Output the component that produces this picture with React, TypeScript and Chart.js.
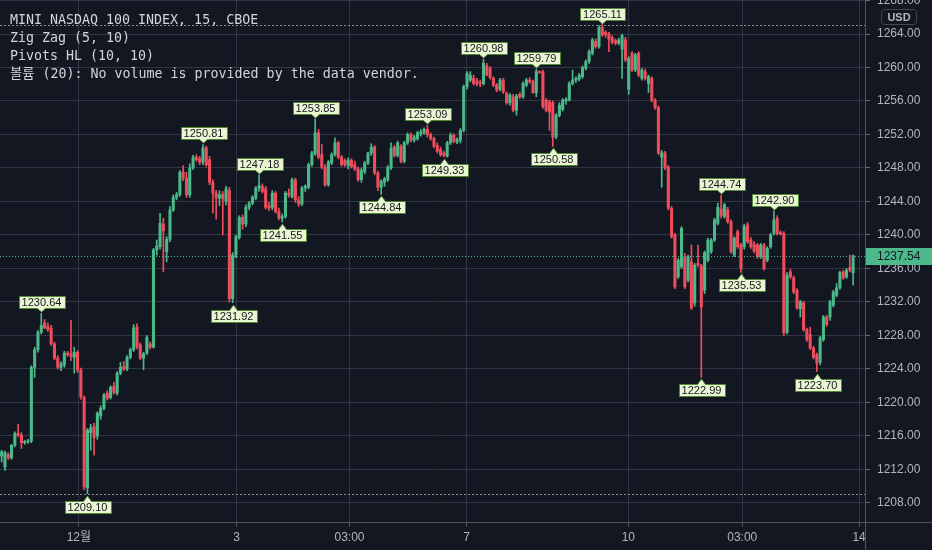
import React, { useEffect, useRef } from 'react';
import { Chart, registerables } from 'chart.js';

Chart.register(...registerables);

// ---------------- data ----------------
const opens = [
  1213.6, 1212.3, 1213.8, 1213.4, 1214.9, 1216.3, 1216.1, 1215.2, 1215.3, 1215.4,
  1224.2, 1226.3, 1228.4, 1229.5, 1229.1, 1228.9, 1227.0, 1225.3, 1224.2, 1224.5,
  1225.9, 1225.8, 1225.4, 1226.0, 1223.9, 1220.6, 1209.8, 1216.4, 1217.1, 1216.0,
  1218.4, 1219.3, 1221.1, 1220.6, 1221.9, 1221.1, 1223.5, 1224.3, 1224.0, 1225.4,
  1226.3, 1229.0, 1226.9, 1225.3, 1225.9, 1227.0, 1226.6, 1238.2, 1238.6, 1241.3,
  1238.0, 1239.5, 1243.0, 1244.5, 1244.8, 1247.5, 1246.8, 1244.8, 1248.0, 1249.3,
  1249.1, 1248.7, 1250.4, 1249.0, 1246.3, 1245.0, 1244.4, 1244.9, 1244.0, 1245.3,
  1232.4, 1237.6, 1239.7, 1242.1, 1241.3, 1243.3, 1243.8, 1244.4, 1245.6, 1245.8,
  1245.5, 1243.5, 1243.3, 1245.0, 1242.8, 1242.0, 1242.2, 1245.0, 1244.6, 1246.6,
  1244.2, 1243.7, 1245.6, 1245.7, 1248.4, 1249.7, 1252.2, 1249.6, 1248.1, 1246.0,
  1248.6, 1249.6, 1251.0, 1249.3, 1248.9, 1248.3, 1248.9, 1248.4, 1247.9, 1246.6,
  1247.6, 1248.6, 1249.8, 1250.5, 1247.4, 1245.7, 1246.3, 1246.6, 1248.0, 1250.5,
  1249.5, 1250.6, 1248.8, 1251.0, 1252.0, 1251.3, 1251.5, 1252.1, 1252.2, 1252.6,
  1252.0, 1251.5, 1250.7, 1250.2, 1249.8, 1249.4, 1251.0, 1251.9, 1251.1, 1251.3,
  1252.5, 1257.7, 1258.5, 1258.7, 1258.4, 1258.2, 1258.1, 1260.2, 1259.9, 1258.7,
  1257.9, 1257.4, 1258.5, 1256.9, 1255.8, 1256.5, 1254.9, 1256.8, 1256.5, 1257.9,
  1258.5, 1258.3, 1257.0, 1259.5, 1259.5, 1256.1, 1255.9, 1255.8, 1251.7, 1254.3,
  1255.0, 1256.0, 1256.1, 1258.1, 1258.5, 1258.6, 1258.9, 1259.9, 1260.7, 1261.7,
  1263.1, 1262.5, 1264.8, 1264.2, 1264.0, 1263.6, 1263.2, 1262.9, 1262.2, 1263.3,
  1257.4, 1261.7, 1259.7, 1261.7, 1258.7, 1259.5, 1258.1, 1258.7, 1256.1, 1255.2,
  1249.3, 1249.8, 1248.1, 1243.2, 1240.0, 1235.0, 1236.2, 1237.4, 1234.6, 1236.8,
  1231.9, 1236.6, 1236.3, 1233.4, 1237.0, 1238.0, 1239.4, 1241.4, 1243.1, 1242.2,
  1243.0, 1241.6, 1237.6, 1240.4, 1238.8, 1238.6, 1241.2, 1239.4, 1238.9, 1238.8,
  1237.4, 1238.8, 1237.0, 1238.6, 1240.2, 1242.0, 1240.3, 1240.2, 1228.4, 1235.6,
  1234.9, 1233.4, 1231.2, 1231.9, 1228.7, 1228.1, 1226.5, 1225.7, 1224.8, 1227.5,
  1230.2, 1230.2, 1231.6, 1232.8, 1233.7, 1235.6, 1235.0, 1236.1, 1235.5,
];

const highs = [
  1214.3, 1214.2, 1214.0, 1215.0, 1216.5, 1217.4, 1216.4, 1215.5, 1215.6, 1224.4,
  1226.6, 1228.6, 1230.64, 1229.9, 1229.5, 1229.2, 1227.2, 1225.6, 1224.9, 1226.1,
  1226.1, 1229.8, 1226.6, 1226.2, 1224.1, 1220.8, 1216.9, 1217.4, 1217.5, 1218.9,
  1219.6, 1221.1, 1221.4, 1222.0, 1222.4, 1223.7, 1224.8, 1224.9, 1225.6, 1226.5,
  1229.3, 1229.4, 1227.1, 1226.0, 1228.0, 1227.2, 1238.4, 1239.4, 1242.6, 1242.0,
  1239.8, 1243.4, 1244.8, 1245.1, 1247.7, 1248.3, 1247.5, 1248.5, 1249.5, 1249.6,
  1249.4, 1250.81, 1250.6, 1249.4, 1246.6, 1245.3, 1245.3, 1245.2, 1245.8, 1245.7,
  1237.9, 1240.0, 1242.3, 1242.4, 1243.6, 1244.0, 1244.7, 1245.8, 1247.18, 1246.1,
  1245.8, 1243.9, 1245.3, 1245.2, 1243.2, 1242.5, 1245.2, 1245.5, 1246.8, 1246.8,
  1244.6, 1245.8, 1246.0, 1248.6, 1250.0, 1253.85, 1252.6, 1250.8, 1248.4, 1248.9,
  1249.8, 1251.6, 1251.2, 1249.5, 1249.1, 1249.2, 1249.1, 1248.8, 1248.1, 1248.0,
  1248.8, 1249.9, 1250.9, 1250.7, 1247.6, 1246.6, 1246.9, 1248.3, 1251.0, 1250.7,
  1251.2, 1250.8, 1251.2, 1252.2, 1252.2, 1251.9, 1252.4, 1252.6, 1252.8, 1253.09,
  1252.2, 1251.7, 1251.0, 1250.5, 1250.0, 1251.2, 1252.2, 1252.1, 1251.6, 1252.7,
  1257.9, 1259.5, 1259.5, 1259.1, 1258.7, 1258.5, 1260.98, 1260.5, 1260.1, 1258.9,
  1258.1, 1258.7, 1258.7, 1257.1, 1256.9, 1256.8, 1256.8, 1257.0, 1258.3, 1258.7,
  1258.8, 1258.5, 1259.79, 1259.6, 1259.7, 1256.3, 1256.1, 1256.0, 1254.5, 1255.8,
  1256.3, 1256.4, 1258.3, 1259.7, 1258.9, 1259.3, 1260.2, 1260.9, 1262.1, 1263.5,
  1263.4, 1265.0, 1265.11, 1264.4, 1264.2, 1263.8, 1263.4, 1263.5, 1264.0, 1263.6,
  1261.3, 1261.9, 1261.7, 1261.9, 1259.9, 1259.8, 1259.1, 1258.9, 1256.3, 1255.4,
  1250.1, 1250.0, 1248.3, 1243.4, 1240.2, 1237.2, 1241.0, 1237.8, 1237.6, 1238.8,
  1236.6, 1238.8, 1236.5, 1238.1, 1239.6, 1239.6, 1242.0, 1243.8, 1244.74, 1243.8,
  1243.3, 1241.8, 1239.8, 1240.6, 1239.0, 1241.3, 1241.5, 1239.7, 1239.2, 1239.0,
  1239.0, 1239.0, 1238.6, 1240.2, 1242.90, 1242.3, 1240.5, 1240.4, 1235.5, 1235.9,
  1235.1, 1233.6, 1232.2, 1232.1, 1228.9, 1229.0, 1226.7, 1225.9, 1227.9, 1230.4,
  1230.4, 1232.2, 1233.4, 1234.2, 1235.7, 1235.8, 1236.0, 1237.6, 1237.6,
];

const lows = [
  1212.9, 1211.9, 1213.2, 1213.2, 1214.7, 1215.9, 1214.5, 1215.0, 1215.1, 1215.2,
  1223.0, 1226.0, 1228.2, 1228.8, 1228.5, 1226.8, 1225.1, 1224.0, 1223.8, 1224.2,
  1225.5, 1225.0, 1223.5, 1223.6, 1220.4, 1209.6, 1209.10, 1214.3, 1213.7, 1215.6,
  1218.0, 1219.1, 1220.3, 1220.4, 1221.0, 1220.9, 1223.3, 1223.8, 1223.8, 1225.2,
  1226.1, 1226.4, 1225.1, 1223.9, 1225.7, 1226.4, 1226.5, 1237.6, 1238.3, 1235.6,
  1236.8, 1239.2, 1242.8, 1244.2, 1244.6, 1246.5, 1244.5, 1244.5, 1247.8, 1248.8,
  1248.4, 1248.4, 1248.2, 1246.0, 1242.6, 1241.9, 1243.5, 1240.0, 1243.6, 1232.0,
  1231.92, 1237.3, 1239.5, 1240.7, 1241.0, 1243.0, 1243.6, 1244.2, 1245.2, 1245.0,
  1243.1, 1242.9, 1243.0, 1242.6, 1241.8, 1241.55, 1242.0, 1244.5, 1244.4, 1243.9,
  1243.4, 1243.5, 1245.2, 1245.5, 1248.2, 1249.5, 1249.1, 1247.9, 1245.8, 1245.8,
  1248.4, 1249.4, 1249.1, 1248.2, 1248.2, 1247.9, 1248.0, 1247.7, 1246.4, 1246.3,
  1247.3, 1248.4, 1249.5, 1247.2, 1245.3, 1244.84, 1245.8, 1246.4, 1247.8, 1249.3,
  1249.3, 1248.6, 1248.6, 1250.8, 1251.1, 1251.1, 1251.3, 1251.8, 1252.0, 1251.7,
  1251.3, 1250.4, 1249.8, 1249.4, 1249.33, 1249.3, 1250.8, 1251.0, 1250.9, 1251.0,
  1252.3, 1257.4, 1258.3, 1257.9, 1257.8, 1257.7, 1257.9, 1259.0, 1258.6, 1257.7,
  1257.1, 1257.2, 1256.9, 1255.6, 1255.5, 1254.7, 1254.3, 1256.3, 1256.3, 1257.7,
  1258.1, 1256.9, 1256.5, 1259.3, 1255.1, 1254.7, 1252.5, 1250.58, 1251.5, 1254.1,
  1254.8, 1255.6, 1256.0, 1257.9, 1258.2, 1258.4, 1258.7, 1259.7, 1260.5, 1261.5,
  1262.3, 1262.3, 1263.7, 1263.6, 1261.9, 1262.8, 1262.7, 1262.7, 1258.7, 1260.7,
  1256.8, 1259.5, 1259.5, 1258.9, 1258.5, 1258.5, 1257.0, 1255.9, 1255.0, 1249.6,
  1245.7, 1247.8, 1243.0, 1239.6, 1233.6, 1234.8, 1236.0, 1233.6, 1234.4, 1231.1,
  1231.5, 1236.2, 1222.99, 1233.0, 1236.8, 1237.8, 1239.2, 1241.2, 1242.0, 1242.0,
  1241.4, 1237.8, 1237.4, 1238.4, 1235.53, 1238.3, 1239.0, 1238.4, 1237.9, 1237.2,
  1237.2, 1235.8, 1236.8, 1238.4, 1240.0, 1240.0, 1240.0, 1228.0, 1228.2, 1234.8,
  1233.0, 1231.1, 1230.2, 1228.5, 1227.3, 1226.3, 1225.2, 1223.70, 1224.5, 1227.3,
  1229.1, 1229.8, 1231.4, 1232.6, 1233.5, 1234.7, 1234.8, 1235.6, 1234.0,
];

const closes = [
  1214.1, 1214.0, 1213.4, 1214.9, 1216.3, 1216.1, 1215.2, 1215.3, 1215.4, 1224.2,
  1226.3, 1228.4, 1229.2, 1228.9, 1228.7, 1227.0, 1225.3, 1224.2, 1224.6, 1225.9,
  1225.7, 1225.5, 1226.0, 1223.9, 1220.7, 1209.9, 1216.7, 1217.0, 1215.8, 1218.7,
  1219.3, 1220.9, 1220.5, 1221.8, 1221.2, 1223.5, 1224.2, 1224.0, 1225.4, 1226.3,
  1228.9, 1226.6, 1225.3, 1225.8, 1227.8, 1226.6, 1238.2, 1238.7, 1241.4, 1240.5,
  1239.5, 1243.0, 1244.5, 1244.8, 1247.5, 1246.8, 1244.8, 1248.0, 1249.3, 1249.0,
  1248.7, 1250.4, 1248.4, 1246.3, 1245.0, 1244.4, 1244.8, 1244.3, 1245.5, 1232.4,
  1237.6, 1239.8, 1242.1, 1241.3, 1243.3, 1243.8, 1244.5, 1245.6, 1245.9, 1245.2,
  1243.3, 1243.2, 1245.0, 1242.8, 1242.0, 1242.2, 1245.0, 1244.8, 1246.6, 1244.2,
  1243.7, 1245.6, 1245.8, 1248.4, 1249.8, 1252.2, 1249.3, 1248.1, 1246.0, 1248.7,
  1249.6, 1251.0, 1249.3, 1248.4, 1248.4, 1248.9, 1248.2, 1247.9, 1246.6, 1247.7,
  1248.6, 1249.8, 1250.5, 1247.4, 1245.7, 1246.4, 1246.7, 1248.1, 1250.4, 1249.5,
  1251.0, 1248.8, 1251.0, 1252.0, 1251.3, 1251.7, 1252.2, 1252.3, 1252.6, 1252.0,
  1251.5, 1250.6, 1250.0, 1249.6, 1249.5, 1251.0, 1251.9, 1251.2, 1251.4, 1252.5,
  1257.7, 1259.3, 1259.1, 1258.1, 1258.0, 1258.1, 1260.5, 1259.1, 1258.8, 1257.9,
  1257.3, 1258.5, 1257.1, 1255.8, 1256.7, 1254.9, 1256.6, 1256.5, 1258.1, 1258.5,
  1258.3, 1257.0, 1259.5, 1259.4, 1255.3, 1254.9, 1254.7, 1251.7, 1254.3, 1255.5,
  1256.1, 1256.2, 1258.1, 1258.5, 1258.7, 1259.1, 1260.0, 1260.7, 1261.9, 1263.3,
  1262.5, 1264.8, 1263.9, 1263.9, 1263.4, 1263.0, 1262.9, 1263.3, 1263.8, 1260.9,
  1261.1, 1259.7, 1261.5, 1259.1, 1259.7, 1258.7, 1258.9, 1256.1, 1255.2, 1249.8,
  1249.8, 1248.0, 1243.2, 1239.8, 1233.8, 1237.0, 1240.8, 1233.8, 1237.4, 1231.3,
  1236.4, 1236.4, 1231.4, 1237.9, 1239.4, 1239.4, 1241.8, 1243.3, 1242.3, 1243.6,
  1241.6, 1238.0, 1239.6, 1238.6, 1236.0, 1241.0, 1239.2, 1238.6, 1238.1, 1237.4,
  1238.8, 1236.0, 1238.4, 1240.0, 1241.8, 1240.2, 1240.1, 1228.3, 1235.2, 1235.0,
  1233.2, 1231.3, 1232.0, 1228.7, 1227.5, 1226.5, 1225.4, 1224.7, 1227.7, 1230.2,
  1229.3, 1232.0, 1233.2, 1233.7, 1235.5, 1234.9, 1235.8, 1235.8, 1237.54,
];

// pivot labels (candle index, price, H = high / L = low)
const pivotIdx = [12, 26, 61, 70, 78, 85, 95, 115, 129, 134, 146, 162, 167, 182, 212, 218, 224, 234, 247];
const pivotPrice = [1230.64, 1209.10, 1250.81, 1231.92, 1247.18, 1241.55, 1253.85, 1244.84, 1253.09, 1249.33, 1260.98, 1259.79, 1250.58, 1265.11, 1222.99, 1244.74, 1235.53, 1242.90, 1223.70];
const pivotType = ['H', 'L', 'H', 'L', 'H', 'L', 'H', 'L', 'H', 'L', 'H', 'H', 'L', 'H', 'L', 'H', 'L', 'H', 'L'];

// time axis labels (positions in candle-index units)
const xTickPos = [23.4, 71.2, 105.4, 140.9, 189.9, 224.4, 259.8];
const xTickLabels = ['12월', '3', '03:00', '7', '10', '03:00', '14'];

// price axis ticks
const yTickVals = [1208, 1212, 1216, 1220, 1224, 1228, 1232, 1236, 1240, 1244, 1248, 1252, 1256, 1260, 1264, 1268];

const legendLines = [
  'MINI NASDAQ 100 INDEX, 15, CBOE',
  'Zig Zag (5, 10)',
  'Pivots HL (10, 10)',
  '볼륨 (20): No volume is provided by the data vendor.',
];

// ---------------- style ----------------
const BG = '#131722';
const GRID = '#323644';
const AXIS = '#50535e';
const TXT = '#b2b5be';
const UP = '#4bb98a';
const DOWN = '#ef4d5c';
const LBL_BG = '#eaf5d2';
const LBL_BORDER = '#4e8a33';
const FONT = '"Liberation Sans", Arial, "Noto Sans CJK KR", sans-serif';

export default function App() {
  const canvasRef = useRef<HTMLCanvasElement | null>(null);

  useEffect(() => {
    document.body.style.margin = '0';
    document.body.style.background = BG;
    const canvas = canvasRef.current;
    if (!canvas) return;

    const idx = closes.map((_, i) => i);
    const colors = idx.map((i) => (closes[i] >= opens[i] ? UP : DOWN));
    const lastClose = closes[closes.length - 1];
    const lastColor = colors[colors.length - 1];
    const maxHigh = Math.max(...highs);
    const minLow = Math.min(...lows);

    const overlay = {
      id: 'overlay',
      beforeDraw(chart: any) {
        const { ctx } = chart;
        ctx.save();
        ctx.fillStyle = BG;
        ctx.fillRect(0, 0, chart.width, chart.height);
        ctx.restore();
      },
      beforeDatasetsDraw(chart: any) {
        const { ctx, chartArea, scales } = chart;
        ctx.save();
        ctx.strokeStyle = 'rgba(170,173,182,0.75)';
        ctx.lineWidth = 1;
        ctx.setLineDash([2, 2]);
        [maxHigh, minLow].forEach((p) => {
          const y = Math.round(scales.y.getPixelForValue(p)) + 0.5;
          ctx.beginPath();
          ctx.moveTo(chartArea.left, y);
          ctx.lineTo(chartArea.right, y);
          ctx.stroke();
        });
        ctx.restore();
      },
      afterDatasetsDraw(chart: any) {
        const { ctx, chartArea, scales } = chart;
        const xs = scales.x;
        const ys = scales.y;
        ctx.save();
        // current price line
        const py = Math.round(ys.getPixelForValue(lastClose)) + 0.5;
        ctx.strokeStyle = lastColor;
        ctx.lineWidth = 1;
        ctx.setLineDash([1, 2]);
        ctx.beginPath();
        ctx.moveTo(chartArea.left, py);
        ctx.lineTo(chartArea.right, py);
        ctx.stroke();
        ctx.setLineDash([]);

        // pivot labels
        ctx.font = '11px ' + FONT;
        ctx.textAlign = 'center';
        ctx.textBaseline = 'middle';
        pivotIdx.forEach((pi, k) => {
          const price = pivotPrice[k];
          const text = price.toFixed(2);
          const x = Math.round(xs.getPixelForValue(pi)) + 0.5;
          const y = ys.getPixelForValue(price);
          const w = Math.round(ctx.measureText(text).width + 6);
          const h = 12;
          const left = Math.round(x - w / 2) + 0.5;
          const right = left + w;
          let top: number;
          let bottom: number;
          ctx.beginPath();
          if (pivotType[k] === 'H') {
            const tip = Math.round(y - 1);
            bottom = tip - 4 + 0.5;
            top = bottom - h;
            ctx.moveTo(left, top);
            ctx.lineTo(right, top);
            ctx.lineTo(right, bottom);
            ctx.lineTo(x + 4, bottom);
            ctx.lineTo(x, tip);
            ctx.lineTo(x - 4, bottom);
            ctx.lineTo(left, bottom);
          } else {
            const tip = Math.round(y + 2);
            top = tip + 5 + 0.5;
            bottom = top + h;
            ctx.moveTo(left, top);
            ctx.lineTo(x - 4, top);
            ctx.lineTo(x, tip);
            ctx.lineTo(x + 4, top);
            ctx.lineTo(right, top);
            ctx.lineTo(right, bottom);
            ctx.lineTo(left, bottom);
          }
          ctx.closePath();
          ctx.fillStyle = LBL_BG;
          ctx.fill();
          ctx.strokeStyle = LBL_BORDER;
          ctx.lineWidth = 1;
          ctx.stroke();
          ctx.fillStyle = '#131722';
          ctx.fillText(text, x, (top + bottom) / 2 + 0.5);
        });
        ctx.restore();
      },
      afterDraw(chart: any) {
        const { ctx, chartArea, scales, width, height } = chart;
        const ys = scales.y;
        ctx.save();
        // axis frame lines
        ctx.strokeStyle = AXIS;
        ctx.lineWidth = 1;
        ctx.beginPath();
        ctx.moveTo(chartArea.right + 0.5, 0);
        ctx.lineTo(chartArea.right + 0.5, height);
        ctx.moveTo(0, chartArea.bottom + 0.5);
        ctx.lineTo(width, chartArea.bottom + 0.5);
        ctx.stroke();

        // last price tag
        const py = Math.round(ys.getPixelForValue(lastClose));
        ctx.fillStyle = lastColor;
        ctx.fillRect(chartArea.right + 1, py - 8, width - chartArea.right - 1, 17);
        ctx.fillStyle = '#131722';
        ctx.font = '12px ' + FONT;
        ctx.textAlign = 'left';
        ctx.textBaseline = 'middle';
        ctx.fillText(lastClose.toFixed(2), chartArea.right + 12, py + 0.5);

        // currency box
        const bx = 881.5;
        const by = 9.5;
        const bw = 35;
        const bh = 15;
        ctx.beginPath();
        ctx.roundRect(bx, by, bw, bh, 3);
        ctx.fillStyle = BG;
        ctx.fill();
        ctx.strokeStyle = '#434651';
        ctx.stroke();
        ctx.fillStyle = TXT;
        ctx.font = 'bold 11px ' + FONT;
        ctx.textAlign = 'center';
        ctx.fillText('USD', bx + bw / 2, by + bh / 2 + 0.5);
        ctx.restore();
      },
    };

    const chart = new Chart(canvas, {
      type: 'bar',
      data: {
        datasets: [
          {
            label: 'wick',
            data: idx.map((i) => ({ x: i, y: [lows[i], highs[i]] })) as any,
            backgroundColor: colors,
            barThickness: 1,
            grouped: false,
            order: 2,
          } as any,
          {
            label: 'body',
            data: idx.map((i) => ({ x: i, y: [opens[i], closes[i]] })) as any,
            backgroundColor: colors,
            barThickness: 2.4,
            minBarLength: 1,
            grouped: false,
            order: 1,
          } as any,
        ],
      },
      options: {
        animation: false,
        responsive: false,
        devicePixelRatio: 1,
        events: [],
        layout: { padding: 0 },
        plugins: {
          legend: { display: false },
          tooltip: { enabled: false },
          title: { display: false },
        },
        scales: {
          x: {
            type: 'linear',
            min: -0.5,
            max: 261.6,
            offset: false,
            grid: { color: GRID, offset: false, drawTicks: true, tickLength: 5, tickColor: AXIS },
            border: { display: true, color: AXIS },
            ticks: {
              color: TXT,
              font: { size: 12, family: FONT },
              autoSkip: false,
              maxRotation: 0,
              padding: 3,
              callback: (_v: any, i: number) => xTickLabels[i],
            },
            afterBuildTicks: (s: any) => {
              s.ticks = xTickPos.map((v) => ({ value: v }));
            },
            afterFit: (s: any) => {
              s.height = 28;
              s.paddingLeft = 0;
              s.paddingRight = 0;
            },
          } as any,
          y: {
            type: 'linear',
            position: 'right',
            min: 1205.73,
            max: 1268.06,
            grid: { color: GRID, drawTicks: true, tickLength: 5, tickColor: '#6a6d78' },
            border: { display: true, color: AXIS },
            ticks: {
              color: TXT,
              font: { size: 12, family: FONT },
              padding: 7,
              callback: (v: any) => Number(v).toFixed(2),
            },
            afterBuildTicks: (s: any) => {
              s.ticks = yTickVals.map((v) => ({ value: v }));
            },
            afterFit: (s: any) => {
              s.width = 67;
              s.paddingTop = 0;
              s.paddingBottom = 0;
            },
          } as any,
        },
      },
      plugins: [overlay],
    } as any);

    return () => chart.destroy();
  }, []);

  return (
    <div style={{ position: 'fixed', left: 0, top: 0, width: 932, height: 550, background: BG, overflow: 'hidden' }}>
      <canvas ref={canvasRef} width={932} height={550} style={{ display: 'block', width: 932, height: 550 }} />
      <div
        style={{
          position: 'absolute',
          left: 10,
          top: 11,
          color: '#d1d4dc',
          fontFamily: '"DejaVu Sans Mono", "Noto Sans CJK KR", monospace',
          fontSize: '13.3px',
          lineHeight: '18px',
          whiteSpace: 'pre',
          pointerEvents: 'none',
        }}
      >
        {legendLines.map((t, i) => (
          <div key={i}>{t}</div>
        ))}
      </div>
    </div>
  );
}
